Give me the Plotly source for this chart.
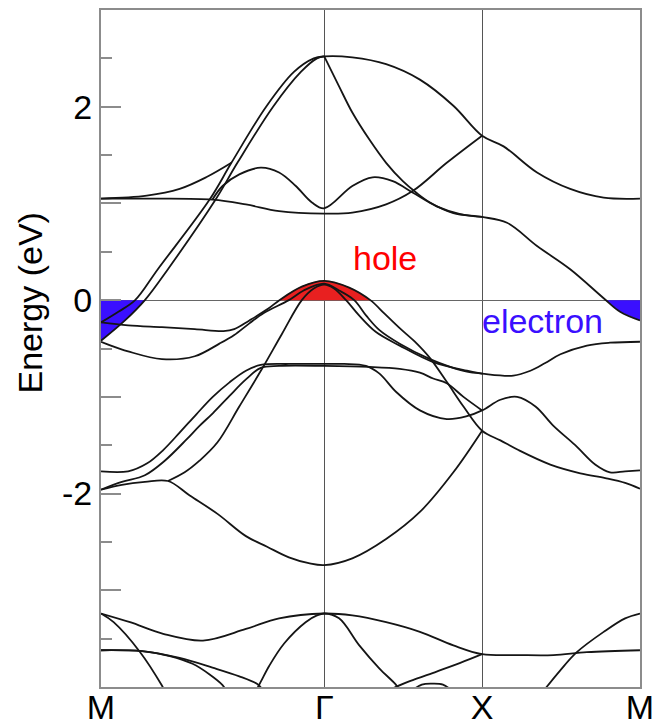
import plotly.graph_objects as go

# ---------------- data ----------------
kpath_ticks = [0.0, 0.7071, 1.2071, 1.7071]
kpath_labels = ["M", "Γ", "X", "M"]

ytick_major = [-3, -2, -1, 0, 1, 2]
ytick_major_text = ["", "-2", "", "0", "", "2"]
ytick_minor = [-3.5, -2.5, -1.5, -0.5, 0.5, 1.5, 2.5]

# band: M(-0.23) -> steep -> Gamma top -> X(1.70) -> M(1.05)
bandA_k = [0, 0.055, 0.108, 0.180, 0.344, 0.413, 0.523, 0.611, 0.674, 0.707,
           0.796, 0.903, 1.010, 1.116, 1.207, 1.275, 1.381, 1.486, 1.592, 1.707]
bandA_e = [-0.23, -0.12, 0.00, 0.32, 1.04, 1.42, 2.00, 2.36, 2.50, 2.52,
           2.51, 2.44, 2.28, 2.01, 1.70, 1.59, 1.32, 1.15, 1.06, 1.05]

# band: M(-0.42) -> steep -> Gamma top
bandL2_k = [0, 0.076, 0.139, 0.212, 0.363, 0.432, 0.545, 0.633, 0.684, 0.707]
bandL2_e = [-0.42, -0.21, 0.00, 0.32, 1.04, 1.42, 2.00, 2.36, 2.50, 2.52]

# band: Gamma top -> X(0.86) -> M electron pocket
bandS_k = [0.707, 0.754, 0.796, 0.850, 0.903, 0.956, 0.999, 1.042, 1.116, 1.207,
           1.286, 1.381, 1.486, 1.592, 1.644, 1.707]
bandS_e = [2.52, 2.21, 1.94, 1.66, 1.42, 1.23, 1.11, 1.01, 0.90, 0.86,
           0.80, 0.56, 0.32, 0.02, -0.12, -0.21]

# band rising from M(1.05)
bandUp_k = [0, 0.145, 0.249, 0.333, 0.413]
bandUp_e = [1.05, 1.08, 1.15, 1.27, 1.42]

# band with local maxima around Gamma(0.95)
bandBump_k = [0.353, 0.385, 0.438, 0.506, 0.564, 0.617, 0.668, 0.707,
              0.796, 0.860, 0.924, 0.988, 1.063, 1.138, 1.207]
bandBump_e = [1.04, 1.18, 1.30, 1.37, 1.32, 1.18, 1.01, 0.95,
              1.18, 1.27, 1.23, 1.11, 0.97, 0.89, 0.86]

# flat band M(1.05) -> Gamma(0.895) -> X(1.70)
bandFlat_k = [0, 0.145, 0.353, 0.459, 0.564, 0.707, 0.796, 0.903, 0.988, 1.095, 1.207]
bandFlat_e = [1.05, 1.05, 1.04, 0.99, 0.92, 0.895, 0.905, 0.99, 1.13, 1.42, 1.70]

# outer hole band
bandH1_k = [0, 0.086, 0.193, 0.297, 0.388, 0.422, 0.470, 0.529, 0.565, 0.636, 0.707,
            0.786, 0.853, 0.898, 0.946, 0.994, 1.042, 1.096, 1.148, 1.207,
            1.265, 1.322, 1.423, 1.518, 1.597, 1.660, 1.707]
bandH1_e = [-0.23, -0.26, -0.28, -0.30, -0.32, -0.30, -0.21, -0.09, 0.00, 0.14, 0.20,
            0.13, 0.00, -0.14, -0.29, -0.43, -0.60, -0.85, -1.10, -1.35,
            -1.45, -1.55, -1.70, -1.79, -1.84, -1.89, -1.95]

# second hole band
bandH2_k = [0, 0.023, 0.086, 0.193, 0.297, 0.375, 0.422, 0.470, 0.517, 0.595, 0.642, 0.707,
            0.754, 0.802, 0.840, 0.882, 0.946, 1.042, 1.106, 1.159, 1.207,
            1.306, 1.360, 1.407, 1.455, 1.539, 1.612, 1.707]
bandH2_e = [-0.43, -0.46, -0.53, -0.61, -0.58, -0.45, -0.36, -0.24, -0.13, 0.00, 0.10, 0.17,
            0.10, 0.00, -0.16, -0.31, -0.45, -0.61, -0.69, -0.74, -0.76,
            -0.78, -0.73, -0.65, -0.56, -0.47, -0.44, -0.43]

# third hole band (steep from below)
bandH3_k = [0.212, 0.265, 0.312, 0.369, 0.438, 0.510, 0.573, 0.636, 0.674, 0.707,
            0.738, 0.776, 0.818, 0.871, 0.946, 1.052, 1.159, 1.207]
bandH3_e = [-1.87, -1.78, -1.66, -1.47, -1.10, -0.71, -0.35, 0.00, 0.12, 0.16,
            0.12, 0.00, -0.16, -0.33, -0.47, -0.64, -0.73, -0.76]

# M(-1.77) -> flat -0.66 -> X(-1.13) -> M(-1.76)
bandM1_k = [0, 0.086, 0.145, 0.197, 0.249, 0.302, 0.354, 0.407, 0.459, 0.506, 0.595, 0.707,
            0.770, 0.839, 0.882, 0.935, 1.010, 1.095, 1.159, 1.207,
            1.265, 1.318, 1.376, 1.433, 1.502, 1.565, 1.612, 1.660, 1.707]
bandM1_e = [-1.77, -1.77, -1.69, -1.55, -1.37, -1.18, -1.00, -0.85, -0.73, -0.67, -0.66, -0.66,
            -0.66, -0.68, -0.76, -0.95, -1.14, -1.23, -1.20, -1.14,
            -1.03, -1.00, -1.10, -1.30, -1.50, -1.70, -1.78, -1.77, -1.76]

# M(-1.96) -> flat -0.68 -> X(-1.14)
bandM2_k = [0, 0.066, 0.139, 0.202, 0.271, 0.312, 0.354, 0.407, 0.459, 0.506, 0.564, 0.707,
            0.850, 0.946, 1.010, 1.052, 1.095, 1.148, 1.207]
bandM2_e = [-1.96, -1.88, -1.81, -1.66, -1.44, -1.30, -1.17, -0.99, -0.82, -0.70, -0.68, -0.68,
            -0.69, -0.71, -0.75, -0.81, -0.86, -1.00, -1.14]

# deep band M(-1.96) -> Gamma(-2.74) -> X(-1.35)
bandD_k = [0, 0.066, 0.139, 0.212, 0.281, 0.369, 0.459, 0.526, 0.595, 0.658, 0.707,
           0.796, 0.903, 1.010, 1.116, 1.207]
bandD_e = [-1.96, -1.91, -1.88, -1.87, -2.02, -2.21, -2.44, -2.55, -2.66, -2.72, -2.74,
           -2.67, -2.47, -2.19, -1.78, -1.35]

# lower bands
bandP1_k = [0, 0.092, 0.197, 0.323, 0.459, 0.564, 0.707, 0.796, 0.903, 1.010, 1.116, 1.207,
            1.328, 1.433, 1.539, 1.707]
bandP1_e = [-3.24, -3.33, -3.45, -3.52, -3.40, -3.29, -3.24, -3.26, -3.33, -3.43, -3.57, -3.66,
            -3.67, -3.67, -3.64, -3.62]

bandP2_k = [0.489, 0.507, 0.533, 0.580, 0.648, 0.684, 0.707, 0.754, 0.818, 0.882, 0.935, 0.946]
bandP2_e = [-4.05, -3.94, -3.78, -3.55, -3.33, -3.26, -3.24, -3.29, -3.57, -3.81, -3.98, -4.04]

bandP3_k = [0, 0.040, 0.124, 0.192, 0.205]
bandP3_e = [-3.24, -3.33, -3.64, -3.98, -4.06]

bandP4_k = [0, 0.130, 0.218, 0.290, 0.344, 0.385, 0.395]
bandP4_e = [-3.62, -3.63, -3.68, -3.76, -3.87, -3.98, -4.03]

bandP5_k = [0, 0.130, 0.249, 0.353, 0.438, 0.495, 0.510]
bandP5_e = [-3.62, -3.63, -3.70, -3.80, -3.89, -3.97, -4.02]

bandP7_k = [0.920, 0.978, 1.063, 1.138, 1.207]
bandP7_e = [-4.02, -3.94, -3.84, -3.75, -3.66]

bandP8_k = [0.984, 1.016, 1.048, 1.083, 1.112]
bandP8_e = [-4.04, -3.975, -3.965, -3.975, -4.04]

bandP9_k = [1.404, 1.454, 1.507, 1.592, 1.660, 1.707]
bandP9_e = [-4.03, -3.83, -3.64, -3.43, -3.29, -3.24]

bands = [
    (bandA_k, bandA_e), (bandL2_k, bandL2_e), (bandS_k, bandS_e),
    (bandUp_k, bandUp_e), (bandBump_k, bandBump_e), (bandFlat_k, bandFlat_e),
    (bandH1_k, bandH1_e), (bandH2_k, bandH2_e), (bandH3_k, bandH3_e),
    (bandM1_k, bandM1_e), (bandM2_k, bandM2_e), (bandD_k, bandD_e),
    (bandP1_k, bandP1_e), (bandP2_k, bandP2_e), (bandP3_k, bandP3_e),
    (bandP4_k, bandP4_e), (bandP5_k, bandP5_e), (bandP7_k, bandP7_e),
    (bandP8_k, bandP8_e), (bandP9_k, bandP9_e),
]

E_FERMI = 0.0
BLUE = "#3a0fff"
RED = "#e82020"

fig = go.Figure()

# ---- electron pocket at left M (below E_F, bounded by band L2) ----
sel = [(k, e) for k, e in zip(bandL2_k, bandL2_e) if e <= E_FERMI]
px = [bandL2_k[0]] + [k for k, e in sel][::-1]
py = [E_FERMI] + [e for k, e in sel][::-1]
fig.add_trace(go.Scatter(x=px, y=py, fill="toself", fillcolor=BLUE, mode="none",
                         hoverinfo="skip", showlegend=False))

# ---- electron pocket at right M (band S) ----
k_cross = None
start = 0
for i in range(len(bandS_k) - 1):
    e0, e1 = bandS_e[i], bandS_e[i + 1]
    if e0 > E_FERMI >= e1:
        k_cross = bandS_k[i] + (bandS_k[i + 1] - bandS_k[i]) * (e0 - E_FERMI) / (e0 - e1)
        start = i + 1
        break
px = [k_cross] + bandS_k[start:] + [bandS_k[-1], k_cross]
py = [E_FERMI] + bandS_e[start:] + [E_FERMI, E_FERMI]
fig.add_trace(go.Scatter(x=px, y=py, fill="toself", fillcolor=BLUE, mode="none",
                         hoverinfo="skip", showlegend=False))

# ---- hole pocket at Gamma (band H1 above E_F) ----
sel = [(k, e) for k, e in zip(bandH1_k, bandH1_e) if e >= E_FERMI and 0.4 < k < 1.0]
fig.add_trace(go.Scatter(x=[k for k, e in sel], y=[e for k, e in sel], fill="toself",
                         fillcolor=RED, mode="lines",
                         line=dict(color=RED, width=0.5, shape="spline"),
                         hoverinfo="skip", showlegend=False))

# ---- bands ----
for k, e in bands:
    fig.add_trace(go.Scatter(x=k, y=e, mode="lines",
                             line=dict(color="#151515", width=1.8, shape="spline", smoothing=1.0),
                             hoverinfo="skip", showlegend=False))

FONT = "Liberation Sans, Arial, sans-serif"

fig.update_layout(
    width=654, height=722,
    margin=dict(l=101, r=14, t=10, b=35),
    paper_bgcolor="white", plot_bgcolor="white",
    showlegend=False,
    font=dict(family=FONT, size=34, color="black"),
)

fig.update_xaxes(
    range=[kpath_ticks[0], kpath_ticks[-1]], automargin=False,
    tickmode="array", tickvals=kpath_ticks, ticktext=kpath_labels,
    ticks="", showgrid=True, gridcolor="#555555", gridwidth=1.2,
    showline=True, linecolor="#8c8c8c", linewidth=2, mirror=True,
    zeroline=False, ticklabeloverflow="allow", ticklabelstandoff=-11,
    tickfont=dict(family=FONT, size=34, color="black"),
)

fig.update_yaxes(
    range=[-4, 3], automargin=False,
    tickmode="array", tickvals=ytick_major, ticktext=ytick_major_text,
    ticks="inside", ticklen=20, tickwidth=2, tickcolor="#8c8c8c",
    minor=dict(tickmode="array", tickvals=ytick_minor, ticks="inside",
               ticklen=11, tickwidth=2, tickcolor="#8c8c8c"),
    showgrid=False, zeroline=True, zerolinecolor="#666666", zerolinewidth=1.2,
    showline=True, linecolor="#8c8c8c", linewidth=2, mirror=True,
    tickfont=dict(family=FONT, size=34, color="black"),
)

fig.add_annotation(text="Energy (eV)", xref="paper", yref="paper",
                   x=-0.1317, y=0.5665, textangle=-90, showarrow=False,
                   xanchor="center", yanchor="middle",
                   font=dict(family=FONT, size=34, color="black"))
fig.add_annotation(text="hole", xref="x", yref="y", x=0.901, y=0.44,
                   showarrow=False, xanchor="center", yanchor="middle",
                   font=dict(family=FONT, size=34, color="#ff0000"))
fig.add_annotation(text="electron", xref="x", yref="y", x=1.398, y=-0.22,
                   showarrow=False, xanchor="center", yanchor="middle",
                   font=dict(family=FONT, size=34, color=BLUE))

fig.write_html("out.html")
